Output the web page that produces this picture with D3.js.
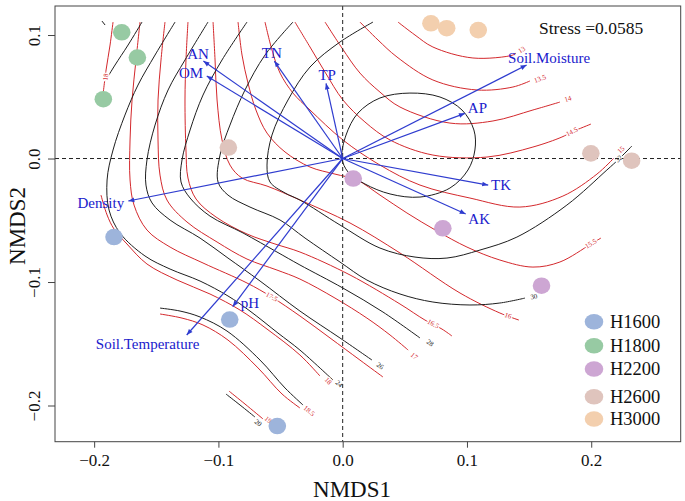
<!doctype html>
<html>
<head>
<meta charset="utf-8">
<title>NMDS ordination with ordisurf contours</title>
<script src="https://cdnjs.cloudflare.com/ajax/libs/d3/7.8.5/d3.min.js"></script>
<style>
  body { margin: 0; background: #fff; }
  text { font-family: "Liberation Serif", "Times New Roman", serif; }
</style>
</head>
<body>
<svg id="chart" width="685" height="501"></svg>
<script>
// groups and legend
const groups = ["H1600", "H1800", "H2200", "H2600", "H3000"];
const groupColors = ["#9db4db", "#97caa3", "#cda6d3", "#dfc4bd", "#f3cfae"];

// site scores [group, NMDS1, NMDS2]
const sites = [
  ["H1600", -0.1840, -0.0636], ["H1600", -0.0909, -0.1304], ["H1600", -0.0526, -0.2166],
  ["H1800", -0.1778, 0.1022], ["H1800", -0.1652, 0.0818], ["H1800", -0.1926, 0.0480],
  ["H2200", 0.0085, -0.0162], ["H2200", 0.0806, -0.0565], ["H2200", 0.1600, -0.1030],
  ["H2600", -0.0920, 0.0089], ["H2600", 0.1997, 0.0042], ["H2600", 0.2325, -0.0018],
  ["H3000", 0.0710, 0.1095], ["H3000", 0.0837, 0.1055], ["H3000", 0.1091, 0.1040]
];

// envfit vectors [name, x, y, labelX, labelY]
const vectors = [
  ["AN", -0.1121, 0.0789, -0.1164, 0.0846],
  ["OM", -0.1094, 0.0668, -0.1220, 0.0692],
  ["TN", -0.0550, 0.0789, -0.0571, 0.0852],
  ["TP", -0.0134, 0.0609, -0.0125, 0.0676],
  ["Soil.Moisture", 0.1480, 0.0757, 0.1661, 0.0811],
  ["AP", 0.0984, 0.0366, 0.1084, 0.0406],
  ["TK", 0.1171, -0.0215, 0.1274, -0.0215],
  ["AK", 0.0990, -0.0449, 0.1098, -0.0492],
  ["Density", -0.1725, -0.0344, -0.1946, -0.0363],
  ["pH", -0.0885, -0.1200, -0.0746, -0.1168],
  ["Soil.Temperature", -0.1255, -0.1429, -0.1570, -0.1502]
];

// red surface contours [level, segments, label positions]
const redContours = [
  ["13", [[[0.0445,0.1105],[0.0582,0.1000],[0.0726,0.0903],[0.1048,0.0814],[0.1370,0.0838],[0.1394,0.0854]]], [[0.1442,0.0879]]],
  ["13.5", [[[0.0139,0.1105],[0.0284,0.0960],[0.0437,0.0822],[0.0726,0.0636],[0.1080,0.0555],[0.1370,0.0579],[0.1507,0.0628]]], [[0.1588,0.0644]]],
  ["14", [[[-0.0142,0.1105],[-0.0006,0.0895],[0.0139,0.0692],[0.0300,0.0538],[0.0461,0.0417],[0.0863,0.0287],[0.1209,0.0304],[0.1531,0.0393],[0.1748,0.0457]]], [[0.1813,0.0482]]],
  ["14.5", [[[-0.0384,0.1105],[-0.0263,0.0903],[-0.0142,0.0700],[0.0002,0.0474],[0.0179,0.0296],[0.0381,0.0150],[0.0726,0.0028],[0.1161,0.0012],[0.1531,0.0093],[0.1764,0.0174],[0.1845,0.0215],[0.1998,0.0279]]], [[0.1845,0.0215]]],
  ["15", [[[-0.0625,0.1105],[-0.0569,0.0879],[-0.0504,0.0692],[-0.0400,0.0530],[-0.0263,0.0393],[0.0002,0.0150],[0.0300,-0.0053],[0.0622,-0.0215],[0.1024,-0.0320],[0.1426,-0.0393],[0.1772,-0.0304],[0.2046,-0.0126],[0.2183,0.0004]]], [[0.2240,0.0069]]],
  ["15.5", [[[-0.0842,0.1105],[-0.0810,0.0838],[-0.0762,0.0611],[-0.0698,0.0393],[-0.0609,0.0206],[-0.0464,0.0053],[-0.0263,-0.0069],[-0.0062,-0.0126],[0.0115,-0.0174],[0.0300,-0.0296],[0.0517,-0.0441],[0.0759,-0.0587],[0.1000,-0.0717],[0.1265,-0.0822],[0.1531,-0.0879],[0.1748,-0.0838],[0.1998,-0.0692],[0.2078,-0.0644]]], [[0.1998,-0.0692]]],
  ["16", [[[-0.1043,0.1105],[-0.1027,0.0798],[-0.1011,0.0474],[-0.0971,0.0150],[-0.0907,-0.0053],[-0.0810,-0.0158],[-0.0609,-0.0223],[-0.0344,-0.0336],[0.0059,-0.0522],[0.0461,-0.0765],[0.0944,-0.1089],[0.1265,-0.1251],[0.1418,-0.1308]]], [[0.1330,-0.1275]]],
  ["16.5", [[[-0.1245,0.1105],[-0.1261,0.0798],[-0.1269,0.0474],[-0.1261,0.0069],[-0.1245,-0.0158],[-0.1180,-0.0328],[-0.1019,-0.0474],[-0.0770,-0.0611],[-0.0545,-0.0692],[-0.0344,-0.0757],[0.0059,-0.0943],[0.0461,-0.1178],[0.0662,-0.1308],[0.0799,-0.1381],[0.0879,-0.1437]]], [[0.0727,-0.1340]]],
  ["17", [[[-0.1430,0.1105],[-0.1462,0.0798],[-0.1486,0.0474],[-0.1486,0.0150],[-0.1470,-0.0134],[-0.1414,-0.0336],[-0.1253,-0.0514],[-0.1011,-0.0676],[-0.0770,-0.0814],[-0.0529,-0.0903],[-0.0344,-0.0976],[-0.0062,-0.1130],[0.0195,-0.1292],[0.0381,-0.1429],[0.0527,-0.1551]]], [[0.0574,-0.1600]]],
  ["17.5", [[[-0.1631,0.1105],[-0.1663,0.0798],[-0.1695,0.0474],[-0.1711,0.0150],[-0.1711,-0.0174],[-0.1679,-0.0377],[-0.1575,-0.0579],[-0.1389,-0.0717],[-0.1124,-0.0846],[-0.0770,-0.1008],[-0.0572,-0.1121],[-0.0344,-0.1275],[-0.0102,-0.1453],[0.0139,-0.1632],[0.0324,-0.1769]]], [[-0.0572,-0.1121]]],
  ["18", [[[-0.1848,0.1105],[-0.1872,0.0919],[-0.1904,0.0717],[-0.1929,0.0514]],
          [[-0.1945,-0.0296],[-0.1896,-0.0457],[-0.1840,-0.0571],[-0.1736,-0.0692],[-0.1575,-0.0854],[-0.1333,-0.0984],[-0.1068,-0.1097],[-0.0826,-0.1227],[-0.0609,-0.1381],[-0.0344,-0.1591],[-0.0183,-0.1761]]],
         [[-0.1905,0.0660],[-0.0118,-0.1802]]],
  ["18.5", [[[-0.1470,-0.1259],[-0.1293,-0.1292],[-0.1124,-0.1348],[-0.0923,-0.1470],[-0.0681,-0.1696],[-0.0488,-0.1907],[-0.0344,-0.2020]]], [[-0.0271,-0.2044]]],
  ["19", [[[-0.0915,-0.1883],[-0.0786,-0.1988],[-0.0641,-0.2109]]], [[-0.0601,-0.2117]]]
];

// black surface contours [level, segments, label positions]
const blackContours = [
  ["20", [[[-0.1937,0.1113],[-0.1912,0.1081]], [[-0.0939,-0.1907],[-0.0826,-0.1996],[-0.0706,-0.2093]]], [[-0.0681,-0.2142]]],
  ["22", [[[-0.1615,0.1105],[-0.1727,0.0919],[-0.1832,0.0757],[-0.1896,0.0652]],
          [[-0.1470,-0.1211],[-0.1309,-0.1235],[-0.1148,-0.1283],[-0.0931,-0.1397],[-0.0665,-0.1632],[-0.0464,-0.1858],[-0.0319,-0.1996]]], []],
  ["24", [[[-0.1349,0.1105],[-0.1510,0.0838],[-0.1647,0.0595],[-0.1752,0.0352],[-0.1848,0.0069],[-0.1896,-0.0174],[-0.1880,-0.0417],[-0.1792,-0.0603],[-0.1591,-0.0789],[-0.1389,-0.0895],[-0.1148,-0.0992],[-0.0923,-0.1113],[-0.0746,-0.1235],[-0.0521,-0.1413],[-0.0344,-0.1551],[-0.0078,-0.1794]]], [[-0.0030,-0.1826]]],
  ["26", [[[-0.1084,0.1105],[-0.1269,0.0798],[-0.1405,0.0555],[-0.1510,0.0271],[-0.1575,-0.0012],[-0.1583,-0.0215],[-0.1534,-0.0360],[-0.1389,-0.0498],[-0.1148,-0.0644],[-0.0923,-0.0806],[-0.0665,-0.0992],[-0.0344,-0.1235],[-0.0022,-0.1453],[0.0236,-0.1632]]], [[0.0300,-0.1680]]],
  ["28", [[[-0.0770,0.1105],[-0.0971,0.0798],[-0.1124,0.0514],[-0.1228,0.0231],[-0.1293,-0.0012],[-0.1301,-0.0190],[-0.1228,-0.0320],[-0.1068,-0.0466],[-0.0802,-0.0603],[-0.0529,-0.0757],[-0.0344,-0.0862],[0.0002,-0.1049],[0.0324,-0.1243],[0.0622,-0.1453]]], [[0.0702,-0.1494]]],
  ["30", [[[-0.0400,0.1105],[-0.0625,0.0838],[-0.0786,0.0555],[-0.0907,0.0271],[-0.0987,0.0028],[-0.1003,-0.0190],[-0.0923,-0.0296],[-0.0746,-0.0393],[-0.0504,-0.0498],[-0.0303,-0.0644],[-0.0022,-0.0838],[0.0195,-0.0984],[0.0461,-0.1097],[0.0726,-0.1162],[0.1024,-0.1186],[0.1265,-0.1170],[0.1467,-0.1130]]], [[0.1539,-0.1121]]],
  ["32", [[[0.0244,0.1105],[-0.0022,0.0943],[-0.0263,0.0741],[-0.0440,0.0474],[-0.0569,0.0190],[-0.0609,-0.0053],[-0.0585,-0.0190],[-0.0464,-0.0279],[-0.0344,-0.0336],[-0.0022,-0.0538],[0.0300,-0.0725],[0.0582,-0.0798],[0.0839,-0.0806],[0.1105,-0.0741],[0.1402,-0.0636],[0.1804,-0.0377],[0.2126,-0.0093],[0.2223,-0.0004],[0.2327,0.0101]]], [[0.2223,-0.0004]]]
];

// innermost closed black contour
const blackRing = [[-0.0006,0.0004],[0.0027,0.0190],[0.0123,0.0368],[0.0300,0.0490],[0.0541,0.0530],[0.0783,0.0498],[0.0960,0.0393],[0.1056,0.0231],[0.1064,0.0069],[0.1008,-0.0093],[0.0863,-0.0239],[0.0622,-0.0312],[0.0381,-0.0287],[0.0179,-0.0206],[0.0043,-0.0109]];

const xTicks = [-0.2, -0.1, 0.0, 0.1, 0.2];
const yTicks = [-0.2, -0.1, 0.0, 0.1];
const stress = "0.0585";

const svg = d3.select("#chart");
const pLeft = 55, pRight = 680.7, pTop = 6, pBottom = 441.7;
const x = d3.scaleLinear().domain([-0.2315, 0.272]).range([pLeft, pRight]);
const y = d3.scaleLinear().domain([-0.2293, 0.1235]).range([pBottom, pTop]);

svg.append("defs").append("clipPath").attr("id", "plotclip")
  .append("rect").attr("x", pLeft).attr("y", pTop).attr("width", pRight - pLeft).attr("height", pBottom - pTop);

const plot = svg.append("g").attr("clip-path", "url(#plotclip)");

const line = d3.line().x(d => x(d[0])).y(d => y(d[1])).curve(d3.curveCatmullRom.alpha(0.5));

const RED = "#d3282c", BLACK = "#1e1e1e";

function drawContours(list, colour) {
  const g = plot.append("g");
  list.forEach(([level, segs, labels]) => {
    segs.forEach(s => {
      g.append("path").attr("d", line(s)).attr("fill", "none")
        .attr("stroke", colour).attr("stroke-width", 1);
    });
  });
  return g;
}

// angle of the line nearest to a point, for contour labels
function labelAngle(segs, p) {
  let best = Infinity, ang = 0;
  segs.forEach(s => {
    for (let i = 0; i < s.length - 1; i++) {
      const ax = x(s[i][0]), ay = y(s[i][1]), bx = x(s[i + 1][0]), by = y(s[i + 1][1]);
      const mx = (ax + bx) / 2, my = (ay + by) / 2;
      const d = Math.hypot(mx - p[0], my - p[1]);
      if (d < best) { best = d; ang = Math.atan2(by - ay, bx - ax) * 180 / Math.PI; }
    }
  });
  if (ang > 90) ang -= 180;
  if (ang < -90) ang += 180;
  return ang;
}

function drawLabels(list, colour) {
  list.forEach(([level, segs, labels]) => {
    labels.forEach(l => {
      const px = x(l[0]), py = y(l[1]);
      plot.append("text")
        .attr("transform", `translate(${px},${py}) rotate(${labelAngle(segs, [px, py])})`)
        .attr("text-anchor", "middle").attr("dominant-baseline", "central")
        .attr("font-size", 7).attr("fill", colour)
        .attr("stroke", "#fff").attr("stroke-width", 2.5).attr("paint-order", "stroke")
        .text(level);
    });
  });
}

drawContours(redContours, RED);
const bg = drawContours(blackContours, BLACK);
bg.append("path").attr("d", d3.line().x(d => x(d[0])).y(d => y(d[1])).curve(d3.curveCatmullRomClosed)(blackRing))
  .attr("fill", "none").attr("stroke", BLACK).attr("stroke-width", 1);
drawLabels(redContours, RED);
drawLabels(blackContours, BLACK);

// zero lines
plot.append("line").attr("x1", x(0)).attr("x2", x(0)).attr("y1", pTop).attr("y2", pBottom)
  .attr("stroke", "#222").attr("stroke-dasharray", "4,3");
plot.append("line").attr("x1", pLeft).attr("x2", pRight).attr("y1", y(0)).attr("y2", y(0))
  .attr("stroke", "#222").attr("stroke-dasharray", "4,3");

// site points
plot.selectAll("ellipse.site").data(sites).enter().append("ellipse")
  .attr("class", "site")
  .attr("cx", d => x(d[1])).attr("cy", d => y(d[2]))
  .attr("rx", 8.8).attr("ry", 8.3)
  .attr("fill", d => groupColors[groups.indexOf(d[0])]);

// vectors
const BLUE = "#2f3ccf";
const vg = plot.append("g");
vectors.forEach(v => {
  const x0 = x(0), y0 = y(0), x1 = x(v[1]), y1 = y(v[2]);
  vg.append("line").attr("x1", x0).attr("y1", y0).attr("x2", x1).attr("y2", y1)
    .attr("stroke", BLUE).attr("stroke-width", 1.2);
  const a = Math.atan2(y1 - y0, x1 - x0), len = 6, w = 2.4;
  const bx = x1 - len * Math.cos(a), by = y1 - len * Math.sin(a);
  vg.append("path")
    .attr("d", `M${x1},${y1}L${bx + w * Math.sin(a)},${by - w * Math.cos(a)}L${bx - w * Math.sin(a)},${by + w * Math.cos(a)}Z`)
    .attr("fill", BLUE);
  vg.append("text").attr("x", x(v[3])).attr("y", y(v[4]))
    .attr("text-anchor", "middle").attr("dominant-baseline", "central")
    .attr("font-size", 15).attr("fill", "#2020cc").text(v[0]);
});

// frame
svg.append("rect").attr("x", pLeft).attr("y", pTop).attr("width", pRight - pLeft).attr("height", pBottom - pTop)
  .attr("fill", "none").attr("stroke", "#444").attr("stroke-width", 1);

// axes
const fmt = d3.format(".1f");
const xAxis = svg.append("g").attr("transform", `translate(0,${pBottom})`)
  .call(d3.axisBottom(x).tickValues(xTicks).tickFormat(fmt).tickSize(6).tickPadding(6).tickSizeOuter(0));
xAxis.select(".domain").remove();
xAxis.selectAll("line").attr("stroke", "#444");
xAxis.selectAll("text").attr("font-size", 17).attr("fill", "#111")
  .attr("font-family", "Liberation Serif, serif");

const yAxis = svg.append("g").attr("transform", `translate(${pLeft},0)`)
  .call(d3.axisLeft(y).tickValues(yTicks).tickFormat(fmt).tickSize(7).tickSizeOuter(0));
yAxis.select(".domain").remove();
yAxis.selectAll("line").attr("stroke", "#444");
yAxis.selectAll("text")
  .attr("x", null).attr("dy", null)
  .attr("transform", "translate(-15,0) rotate(-90)")
  .attr("text-anchor", "middle")
  .attr("font-size", 17).attr("fill", "#111")
  .attr("font-family", "Liberation Serif, serif");

svg.append("text").attr("x", 352).attr("y", 497).attr("text-anchor", "middle")
  .attr("font-size", 23).attr("fill", "#111").text("NMDS1");
svg.append("text").attr("transform", "translate(25,226) rotate(-90)").attr("text-anchor", "middle")
  .attr("font-size", 23).attr("fill", "#111").text("NMDS2");

// stress
svg.append("text").attr("x", 539).attr("y", 34).attr("font-size", 17.5).attr("fill", "#111")
  .text("Stress =" + stress);

// legend
const legendY = [321.7, 345.7, 369, 396.7, 419];
const lg = svg.append("g");
groups.forEach((g, i) => {
  lg.append("ellipse").attr("cx", 594).attr("cy", legendY[i]).attr("rx", 9.3).attr("ry", 7.8)
    .attr("fill", groupColors[i]);
  lg.append("text").attr("x", 610).attr("y", legendY[i]).attr("dominant-baseline", "central")
    .attr("font-size", 18.5).attr("fill", "#111").text(g);
});
</script>
</body>
</html>
